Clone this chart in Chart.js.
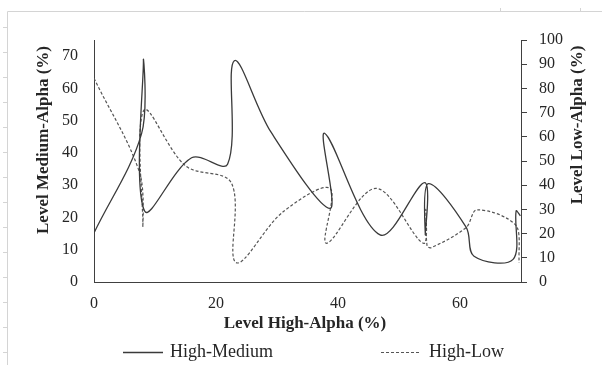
<!DOCTYPE html>
<html>
<head>
<meta charset="utf-8">
<script src="https://cdn.jsdelivr.net/npm/chart.js@4.4.1/dist/chart.umd.min.js"></script>
<style>
  body { margin: 0; background: #fff; }
  canvas { display: block; }
</style>
</head>
<body>
<canvas id="alphaChart" width="602" height="365"></canvas>
<script>
// High-Medium series (left axis)
var highAlphaM = [0, 7.8, 8.1, 8.3, 16, 21.9, 23, 29, 38.7, 37.8, 46.9, 54.2, 54.3, 54.8, 61, 62.3, 68.7, 69.2, 69.9];
var mediumAlpha = [15.2, 46, 68.8, 22, 38.5, 36.5, 68.6, 46.5, 22.8, 46.1, 14.6, 30.8, 14.5, 30.5, 17, 8, 7, 22, 20.5];

// High-Low series (right axis)
var highAlphaL = [0, 7.5, 8, 8.2, 15, 22.5, 23.3, 31, 38.7, 38.1, 46.2, 54, 54.4, 54.6, 55.3, 61, 62.8, 69.3, 69.7];
var lowAlpha = [84.2, 45, 23, 71, 48, 41, 8, 29, 38.7, 16, 38.7, 16, 30, 15, 14.2, 22.5, 29.8, 23, 8];

var xTicks = [0, 20, 40, 60];
var leftTicks = [0, 10, 20, 30, 40, 50, 60, 70];

var serif = "'Liberation Serif', 'DejaVu Serif', serif";
var ink = '#262626';

function toPoints(xs, ys) {
    var pts = [];
    for (var i = 0; i < xs.length; i++) {
        pts.push({x: xs[i], y: ys[i]});
    }
    return pts;
}

// titles, legend and the page frame
var decorPlugin = {
    id: 'decor',
    beforeDraw: function(chart) {
        var ctx = chart.ctx;
        ctx.save();
        ctx.strokeStyle = '#d4d4d4';
        ctx.lineWidth = 1;
        ctx.beginPath();
        ctx.moveTo(7.5, 365);
        ctx.lineTo(7.5, 11.5);
        ctx.lineTo(602, 11.5);
        for (var y = 27; y < 365; y += 25) {
            ctx.moveTo(3, y + 0.5);
            ctx.lineTo(7, y + 0.5);
        }
        ctx.moveTo(500.5, 8); ctx.lineTo(500.5, 11);
        ctx.moveTo(580.5, 8); ctx.lineTo(580.5, 11);
        ctx.stroke();
        ctx.restore();
    },
    afterDraw: function(chart) {
        var ctx = chart.ctx;
        ctx.save();
        ctx.fillStyle = ink;
        ctx.font = 'bold 17px ' + serif;
        ctx.textAlign = 'center';
        ctx.textBaseline = 'middle';
        ctx.fillText('Level High-Alpha (%)', 305, 324);

        ctx.save();
        ctx.translate(44, 140);
        ctx.rotate(-Math.PI / 2);
        ctx.fillText('Level Medium-Alpha (%)', 0, 0);
        ctx.restore();

        ctx.save();
        ctx.translate(578, 125);
        ctx.rotate(-Math.PI / 2);
        ctx.fillText('Level Low-Alpha (%)', 0, 0);
        ctx.restore();

        // legend
        var items = [[123, 163, 170], [381, 421, 429]];
        ctx.font = '18px ' + serif;
        ctx.textAlign = 'left';
        chart.data.datasets.forEach(function(ds, i) {
            var it = items[i];
            ctx.strokeStyle = ds.borderColor;
            ctx.lineWidth = ds.borderWidth;
            ctx.setLineDash(ds.borderDash || []);
            ctx.beginPath();
            ctx.moveTo(it[0], 352.5);
            ctx.lineTo(it[1], 352.5);
            ctx.stroke();
            ctx.setLineDash([]);
            ctx.fillText(ds.label, it[2], 352);
        });
        ctx.restore();
    }
};

var ctx = document.getElementById('alphaChart').getContext('2d');

var alphaChart = new Chart(ctx, {
    type: 'scatter',
    data: {
        datasets: [{
            label: 'High-Medium',
            data: toPoints(highAlphaM, mediumAlpha),
            yAxisID: 'y',
            showLine: true,
            borderColor: '#3a3a3a',
            borderWidth: 1.3,
            pointRadius: 0,
            tension: 0.35
        }, {
            label: 'High-Low',
            data: toPoints(highAlphaL, lowAlpha),
            yAxisID: 'y2',
            showLine: true,
            borderColor: '#555555',
            borderWidth: 1.2,
            borderDash: [3, 2],
            pointRadius: 0,
            tension: 0.35
        }]
    },
    options: {
        responsive: false,
        animation: false,
        events: [],
        layout: { padding: { top: 40, left: 0, right: 0, bottom: 0 } },
        plugins: {
            legend: { display: false },
            tooltip: { enabled: false }
        },
        scales: {
            x: {
                type: 'linear',
                min: 0,
                max: 70,
                afterFit: function(s) { s.height = 83; },
                afterBuildTicks: function(s) {
                    s.ticks = xTicks.map(function(v) { return {value: v}; });
                },
                grid: { display: false, drawTicks: false },
                border: { display: true, color: '#404040', width: 1 },
                ticks: { color: ink, font: { family: serif, size: 16 }, padding: 12 }
            },
            y: {
                position: 'left',
                min: 0,
                max: 75,
                afterFit: function(s) { s.width = 94; },
                afterBuildTicks: function(s) {
                    s.ticks = leftTicks.map(function(v) { return {value: v}; });
                },
                grid: { display: false, drawTicks: false },
                border: { display: true, color: '#404040', width: 1 },
                ticks: { color: ink, font: { family: serif, size: 16 }, padding: 16 }
            },
            y2: {
                position: 'right',
                min: 0,
                max: 100,
                afterFit: function(s) { s.width = 81; },
                grid: { display: true, drawOnChartArea: false, drawTicks: true, tickLength: 6, color: '#404040' },
                border: { display: true, color: '#404040', width: 1 },
                ticks: { stepSize: 10, color: ink, font: { family: serif, size: 16 }, padding: 12 }
            }
        }
    },
    plugins: [decorPlugin]
});
</script>
</body>
</html>
